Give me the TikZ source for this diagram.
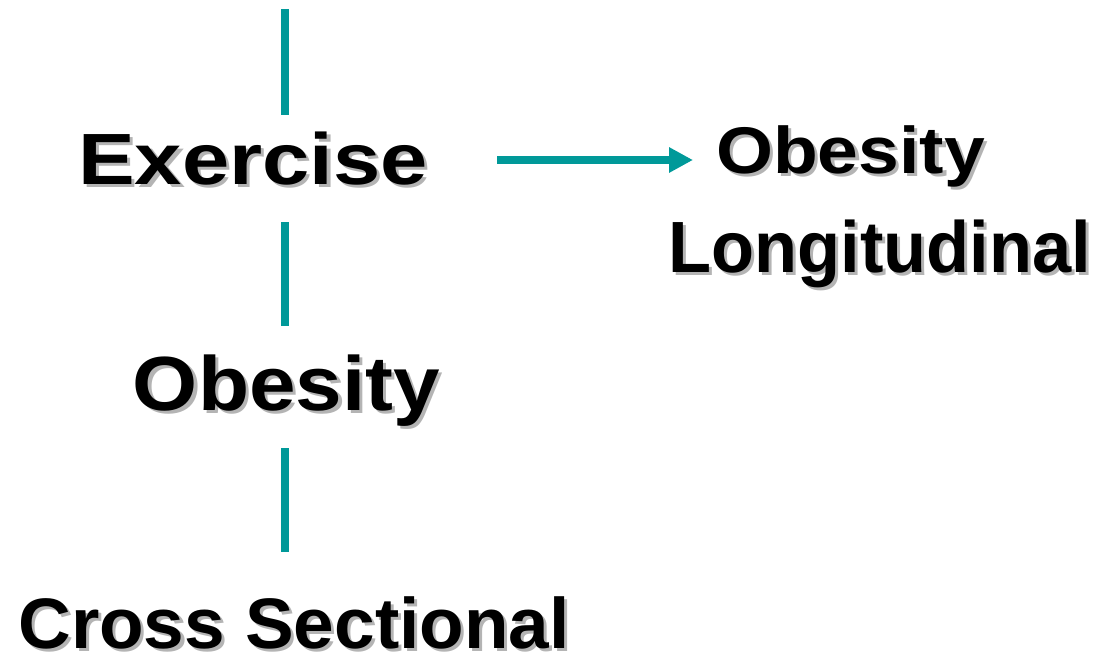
\documentclass[tikz,border=0pt]{standalone}
\usepackage{fontspec}
\setmainfont{Liberation Sans}
\usetikzlibrary{arrows.meta}
\definecolor{teal1}{HTML}{009999}
\definecolor{shadowgray}{HTML}{B4B4B4}
\newcommand{\shtxt}[3]{\scalebox{#2}[1]{\fontsize{#1}{#1}\selectfont\bfseries\rlap{\hspace{3pt}\raisebox{-3pt}{\textcolor{shadowgray}{#3}}}#3}}
\tikzset{
  lbl/.style={inner sep=0pt, outer sep=0pt, anchor=base},
  bar/.style={draw=teal1, line width=8pt},
  arr/.style={draw=teal1, line width=8pt, -{Triangle[length=24pt,width=24pt]}}
}
\begin{document}
\begin{tikzpicture}[x=1pt,y=1pt]
\useasboundingbox (0,0) rectangle (1096,-653);
\node[lbl] (ex) at (253,-184) {\shtxt{72.6}{1.17}{Exercise}};
\node[lbl] (ob) at (286.5,-410) {\shtxt{76.8}{1.09}{Obesity}};
\node[lbl] (cs) at (294,-648) {\shtxt{71.5}{1.02}{Cross Sectional}};
\node[lbl] (obr) at (850.5,-173) {\shtxt{66}{1.11}{Obesity}};
\node[lbl] (lo) at (880,-272) {\shtxt{72.6}{0.97}{Longitudinal}};
\coordinate (t0) at (285,-9);
\coordinate (t1) at (285,-115);
\coordinate (m0) at (285,-222);
\coordinate (m1) at (285,-326);
\coordinate (b0) at (285,-448);
\coordinate (b1) at (285,-552);
\coordinate (a0) at (497,-160);
\coordinate (a1) at (693,-160);
\draw[bar] (t0) -- (t1);
\draw[bar] (m0) -- (m1);
\draw[bar] (b0) -- (b1);
\draw[arr] (a0) -- (a1);
\end{tikzpicture}
\end{document}
